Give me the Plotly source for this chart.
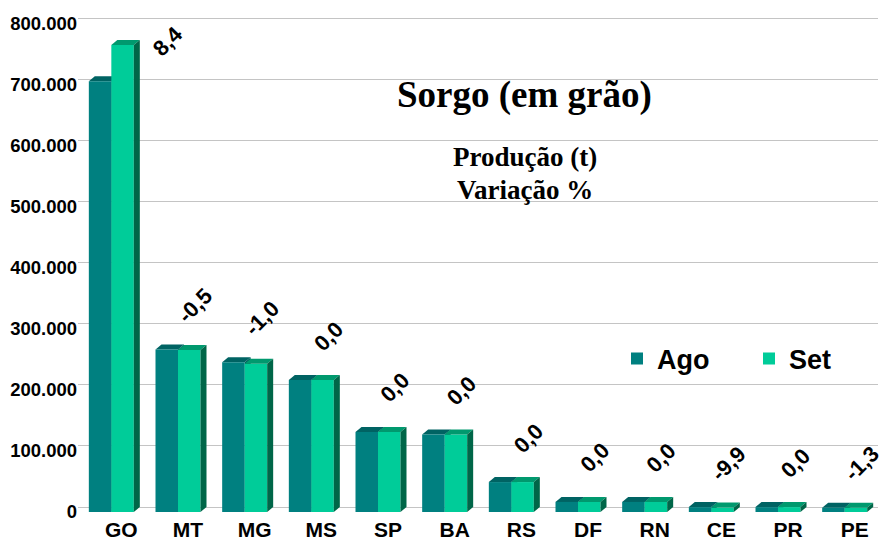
import plotly.graph_objects as go

# ---------------- data ----------------
states = ["GO", "MT", "MG", "MS", "SP", "BA", "RS", "DF", "RN", "CE", "PR", "PE"]
ago = [705000, 266000, 245000, 216000, 131000, 127000, 49000, 16500, 16500, 8000, 8000, 7000]
set_ = [764000, 265000, 242500, 216000, 131000, 127000, 49000, 16500, 16500, 7200, 8000, 6900]
variacao = ["8,4", "-0,5", "-1,0", "0,0", "0,0", "0,0", "0,0", "0,0", "0,0", "-9,9", "0,0", "-1,3"]
y_ticks = [0, 100000, 200000, 300000, 400000, 500000, 600000, 700000, 800000]

# ---------------- style ----------------
C_AGO = "#008080"
C_SET = "#00CC99"
C_AGO_TOP = "#006363"
C_AGO_SIDE = "#006060"
C_SET_TOP = "#00996E"
C_SET_SIDE = "#006648"
GRID = "#C4C4C4"
SANS = "Arial, Liberation Sans, sans-serif"
SERIF = "Times New Roman, Liberation Serif, serif"

# the page body has an 8px margin, so the figure is drawn 8px in from the window corner
OFF = 8
W, H = 887 - OFF, 544 - OFF
PL, PR_, PT, PB = 78, 878, 17, 512          # plot area in window pixels
ML, MR, MT, MB = PL - OFF, W - (PR_ - OFF), PT - OFF, H - (PB - OFF)
YMAX = 810000
plot_w = W - ML - MR
plot_h = H - MT - MB
px_per_unit = plot_h / YMAX
px_per_cat = plot_w / len(states)
DEPTH_Y = 5 / px_per_unit          # 3D depth in data units (vertical)
DEPTH_X = 6 / px_per_cat           # 3D depth in category units (horizontal)
BARGAP = 0.325
bw = (1 - BARGAP) / 2

def px(x):   # window x pixel -> paper fraction
    return (x - PL) / plot_w
def py(y):   # window y pixel -> paper fraction
    return (PB - y) / plot_h

idx = list(range(len(states)))

fig = go.Figure()
fig.add_trace(go.Bar(x=idx, y=ago, name="Ago", marker=dict(color=C_AGO, line=dict(width=0)),
                     hoverinfo="skip"))
fig.add_trace(go.Bar(x=idx, y=set_, name="Set", marker=dict(color=C_SET, line=dict(width=0)),
                     hoverinfo="skip"))
# empty trace that just registers the back-wall grid axis
fig.add_trace(go.Scatter(x=[], y=[], yaxis="y2", showlegend=False, hoverinfo="skip"))

# 3D faces derived from the data
shapes = []
def poly(pts, color, layer):
    path = "M " + " L ".join(f"{x},{y}" for x, y in pts) + " Z"
    return dict(type="path", path=path, xref="x", yref="y", fillcolor=color,
                line=dict(width=0), layer=layer)

for i, a, s in zip(idx, ago, set_):
    shapes.append(poly([(i - bw, a), (i, a), (i + DEPTH_X, a + DEPTH_Y), (i - bw + DEPTH_X, a + DEPTH_Y)],
                       C_AGO_TOP, "between"))
    shapes.append(poly([(i, 0), (i, a), (i + DEPTH_X, a + DEPTH_Y), (i + DEPTH_X, DEPTH_Y)],
                       C_AGO_SIDE, "between"))
    shapes.append(poly([(i, s), (i + bw, s), (i + bw + DEPTH_X, s + DEPTH_Y), (i + DEPTH_X, s + DEPTH_Y)],
                       C_SET_TOP, "above"))
    shapes.append(poly([(i + bw, 0), (i + bw, s), (i + bw + DEPTH_X, s + DEPTH_Y), (i + bw + DEPTH_X, DEPTH_Y)],
                       C_SET_SIDE, "above"))

# variation labels
annotations = []
for i, a, s, v in zip(idx, ago, set_, variacao):
    top = max(a, s)
    if top * px_per_unit + 60 > plot_h:
        xs, ys = 56, 4
    else:
        xs, ys = 17, 44
    annotations.append(dict(x=i, y=top, xref="x", yref="y", text=f"<b>{v}</b>", showarrow=False,
                            textangle=-45, xshift=xs, yshift=ys, xanchor="center", yanchor="middle",
                            font=dict(family=SANS, size=22, color="black")))

annotations += [
    dict(x=px(524), y=py(95), xref="paper", yref="paper",
         text="<b>Sorgo (em grão)</b>", showarrow=False, xanchor="center", yanchor="middle",
         font=dict(family=SERIF, size=37, color="black")),
    dict(x=px(525), y=py(157), xref="paper", yref="paper",
         text="<b>Produção (t)</b>", showarrow=False, xanchor="center", yanchor="middle",
         font=dict(family=SERIF, size=27, color="black")),
    dict(x=px(525), y=py(190), xref="paper", yref="paper",
         text="<b>Variação %</b>", showarrow=False, xanchor="center", yanchor="middle",
         font=dict(family=SERIF, size=27, color="black")),
]

fig.update_layout(
    width=W, height=H,
    margin=dict(l=ML, r=MR, t=MT, b=MB, pad=0, autoexpand=False),
    paper_bgcolor="white", plot_bgcolor="white",
    separators=",.",
    barmode="group", bargap=BARGAP, bargroupgap=0,
    shapes=shapes, annotations=annotations,
    showlegend=True,
    legend=dict(orientation="h", x=px(617), y=py(359),
                xanchor="left", yanchor="middle", bgcolor="white", borderwidth=0,
                entrywidth=87, entrywidthmode="pixels",
                font=dict(family=SANS, size=27, color="black", weight="bold")),
    xaxis=dict(range=[-0.5, len(states) - 0.5], tickvals=idx, ticktext=states,
               showgrid=False, zeroline=False, showline=False, ticks="", automargin=False,
               ticklabelshift=10, ticklabelstandoff=3,
               tickfont=dict(family=SANS, size=21, color="black", weight="bold")),
    yaxis=dict(range=[0, YMAX], tickvals=y_ticks, tickformat=",d", automargin=False,
               showgrid=False, zeroline=False, showline=False, ticks="",
               tickfont=dict(family=SANS, size=18.5, color="black", weight="bold")),
    yaxis2=dict(range=[-DEPTH_Y, YMAX - DEPTH_Y], overlaying="y", anchor="x", side="left",
                tickvals=y_ticks, showticklabels=False, showgrid=True, gridcolor=GRID,
                gridwidth=1, zeroline=False, showline=False, ticks="", automargin=False),
)

fig.write_html("out.html")
